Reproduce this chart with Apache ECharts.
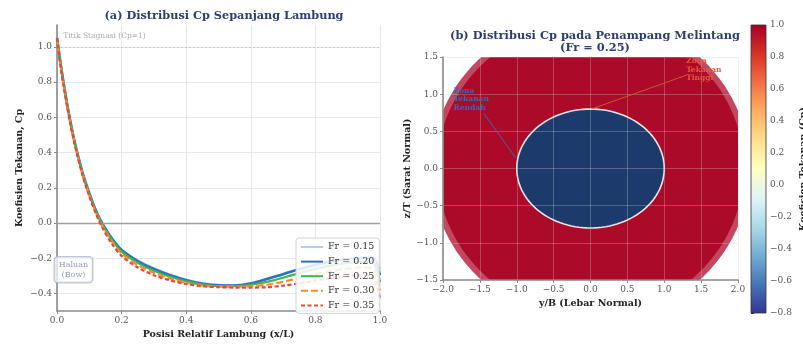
<!DOCTYPE html>
<html><head><meta charset="utf-8">
<script src="https://cdn.jsdelivr.net/npm/echarts@6/dist/echarts.min.js"></script>
<style>html,body{margin:0;padding:0;background:#fff}#c{width:803px;height:347px}</style>
</head><body><div id="c"></div>
<script>
// ---- Panel (a) data ----
const xPos = [0, 0.01, 0.02, 0.03, 0.04, 0.05, 0.06, 0.08, 0.10, 0.12, 0.14, 0.17, 0.20, 0.25, 0.30, 0.35, 0.40, 0.45, 0.50, 0.55, 0.60, 0.65, 0.70, 0.75, 0.80, 0.85, 0.90, 0.94, 0.97, 0.985, 1.0];
const cpFr015 = [1.05,0.92,0.80,0.69,0.59,0.50,0.42,0.28,0.17,0.075,0.0,-0.085,-0.150,-0.212,-0.256,-0.292,-0.320,-0.340,-0.350,-0.351,-0.340,-0.315,-0.288,-0.260,-0.235,-0.214,-0.200,-0.193,-0.190,-0.200,-0.260];
const cpFr020 = [1.05,0.92,0.80,0.69,0.59,0.50,0.42,0.28,0.17,0.073,-0.002,-0.088,-0.153,-0.216,-0.261,-0.296,-0.324,-0.344,-0.353,-0.354,-0.343,-0.318,-0.290,-0.262,-0.238,-0.218,-0.205,-0.198,-0.197,-0.215,-0.295];
const cpFr025 = [1.05,0.915,0.795,0.685,0.585,0.495,0.415,0.275,0.163,0.068,-0.008,-0.095,-0.162,-0.226,-0.271,-0.305,-0.331,-0.349,-0.357,-0.358,-0.350,-0.334,-0.310,-0.284,-0.260,-0.240,-0.226,-0.220,-0.220,-0.240,-0.335];
const cpFr030 = [1.05,0.91,0.79,0.68,0.58,0.49,0.41,0.27,0.158,0.062,-0.015,-0.105,-0.172,-0.238,-0.282,-0.314,-0.338,-0.354,-0.360,-0.361,-0.358,-0.350,-0.333,-0.312,-0.290,-0.272,-0.258,-0.252,-0.253,-0.275,-0.380];
const cpFr035 = [1.05,0.905,0.785,0.675,0.575,0.485,0.405,0.265,0.152,0.055,-0.025,-0.118,-0.186,-0.252,-0.296,-0.325,-0.346,-0.358,-0.364,-0.366,-0.366,-0.364,-0.355,-0.342,-0.326,-0.312,-0.302,-0.298,-0.300,-0.325,-0.430];
const frNames = ['Fr = 0.15','Fr = 0.20','Fr = 0.25','Fr = 0.30','Fr = 0.35'];

// ---- Panel (b) data ----
const outerHull = [0, 0, 2.16, 2.06];     // cx, cy, semi-axis y/B, semi-axis z/T
const innerHull = [0, 0, 2.08, 1.98];
const lowZone = [0, 0, 1.0, 0.8];
const lowZoneArrow = [[-1.446, 0.74], [-1.007, 0.134]];
const highZoneArrow = [[0.03, 0.806], [1.297, 1.254]];
const lowZoneText = [-1.856, 1.10, 'Zona\nTekanan\nRendah'];
const highZoneText = [1.297, 1.50, 'Zona\nTekanan\nTinggi'];
const cbRange = [-0.8, 1.0];

const FONT = 'DejaVu Serif';
const minus = v => (v < 0 ? '\u2212' : '') + Math.abs(v).toFixed(1);
const axisGray = '#8a8a8a';
const gridGray = '#e8e8e8';

const mk = arr => xPos.map((x, i) => [x, arr[i]]);
const lineDefs = [
  {d: cpFr015, c: '#a8d2f3', w: 2, t: 'solid'},
  {d: cpFr020, c: '#2e6fbe', w: 2.6, t: 'solid'},
  {d: cpFr025, c: '#35b85a', w: 2.2, t: 'solid'},
  {d: cpFr030, c: '#ff8a1f', w: 2.2, t: [7, 3]},
  {d: cpFr035, c: '#e04a3c', w: 2.2, t: [4, 2.5]}
];

function ellipsePts(api, e) {
  const pts = [];
  for (let k = 0; k <= 120; k++) {
    const t = k / 120 * Math.PI * 2;
    pts.push(api.coord([e[0] + e[2] * Math.cos(t), e[1] + e[3] * Math.sin(t)]));
  }
  return pts;
}

const chart = echarts.init(document.getElementById('c'));
const series = [];
lineDefs.forEach((L, i) => {
  series.push({
    name: frNames[i], type: 'line', xAxisIndex: 0, yAxisIndex: 0,
    data: mk(L.d), showSymbol: false, symbol: 'none', smooth: 0.3,
    lineStyle: {color: L.c, width: L.w, type: L.t}, itemStyle: {color: L.c},
    z: 3 + i, animation: false,
    markLine: i === 0 ? {
      silent: true, symbol: 'none', label: {show: false},
      data: [
        {yAxis: 1.0, lineStyle: {color: '#c8c8c8', type: [2, 2], width: 1}},
        {yAxis: 0.0, lineStyle: {color: '#a0a0a0', type: 'solid', width: 1.3}}
      ]
    } : undefined
  });
});
// annotations panel (a)
series.push({
  type: 'custom', xAxisIndex: 0, yAxisIndex: 0, z: 10, animation: false,
  data: [[0.019, 1.061]],
  renderItem: (p, api) => {
    const c = api.coord([api.value(0), api.value(1)]);
    return {type: 'text', x: c[0], y: c[1], style: {text: 'Titik Stagnasi (Cp=1)', fill: '#a9a9a9', font: '7.5px "DejaVu Serif"', textAlign: 'left', textVerticalAlign: 'middle'}};
  }
});
series.push({
  type: 'scatter', xAxisIndex: 0, yAxisIndex: 0, z: 12, animation: false, symbolSize: 0,
  data: [[0.051, -0.265]],
  label: {show: true, position: 'inside', formatter: 'Haluan\n(Bow)', color: '#7285ab', fontFamily: FONT, fontSize: 8, lineHeight: 10.5,
    backgroundColor: 'rgba(255,255,255,0.9)', borderColor: '#a9b7d0', borderWidth: 1.3, borderRadius: 3, padding: [2, 4, 2, 4], align: 'center'}
});
// panel (b) shapes
series.push({
  type: 'custom', xAxisIndex: 1, yAxisIndex: 1, z: 1, animation: false,
  data: [outerHull.concat([0]), innerHull.concat([1]), lowZone.concat([2])],
  renderItem: (p, api) => {
    const idx = p.dataIndex;
    const e = [api.value(0), api.value(1), api.value(2), api.value(3)];
    const cs = p.coordSys;
    const fills = ['#c2475f', '#ab0b28', '#1d3a6c'];
    return {
      type: 'polygon', shape: {points: ellipsePts(api, e)},
      style: {fill: fills[idx], stroke: idx === 2 ? '#e9e4df' : null, lineWidth: idx === 2 ? 1.6 : 0},
      clipPath: {type: 'rect', shape: {x: cs.x, y: cs.y, width: cs.width, height: cs.height}}
    };
  }
});
series.push({
  type: 'line', xAxisIndex: 1, yAxisIndex: 1, z: 5, animation: false, symbol: 'none',
  data: lowZoneArrow, lineStyle: {color: '#3d66b0', width: 1}
});
series.push({
  type: 'line', xAxisIndex: 1, yAxisIndex: 1, z: 5, animation: false, symbol: 'none',
  data: highZoneArrow, lineStyle: {color: '#c9572c', width: 1}
});
series.push({
  type: 'custom', xAxisIndex: 1, yAxisIndex: 1, z: 6, animation: false,
  data: [lowZoneText.slice(0, 2), highZoneText.slice(0, 2)],
  renderItem: (p, api) => {
    const d = p.dataIndex === 0 ? lowZoneText : highZoneText;
    const c = api.coord([d[0], d[1]]);
    return {type: 'text', x: c[0], y: c[1], style: {text: d[2], fill: p.dataIndex === 0 ? '#3567be' : '#e8593b',
      font: 'bold 7.5px "DejaVu Serif"', textAlign: 'left', textVerticalAlign: 'top', lineHeight: 8.5}};
  }
});
// colorbar
series.push({
  type: 'custom', xAxisIndex: 2, yAxisIndex: 2, z: 2, animation: false,
  data: [[0, cbRange[0], 1, cbRange[1]]],
  renderItem: (p, api) => {
    const a = api.coord([0, cbRange[0]]), b = api.coord([1, cbRange[1]]);
    const stops = ['#313695','#4575b4','#74add1','#abd9e9','#e0f3f8','#ffffbf','#fee090','#fdae61','#f46d43','#d73027','#a50026'];
    return {type: 'rect', shape: {x: a[0], y: b[1], width: b[0] - a[0], height: a[1] - b[1]},
      style: {fill: {type: 'linear', x: 0, y: 1, x2: 0, y2: 0, colorStops: stops.map((c, i) => ({offset: i / (stops.length - 1), color: c}))},
        stroke: '#333', lineWidth: 0.8}};
  }
});

const baseAxisLabel = {fontFamily: FONT, fontSize: 9, color: '#555', formatter: minus};
const nameStyle = {fontFamily: FONT, fontSize: 9.5, fontWeight: 'bold', color: '#222'};
const axLine = {show: true, onZero: false, lineStyle: {color: axisGray, width: 1.6}};

const option = {
  backgroundColor: '#fff',
  animation: false,
  textStyle: {fontFamily: FONT},
  title: [
    {text: '(a) Distribusi Cp Sepanjang Lambung', left: 219, top: 6, textAlign: 'center',
      textStyle: {fontFamily: FONT, fontSize: 11.3, fontWeight: 'bold', color: '#2c3e6e'}},
    {text: '(b) Distribusi Cp pada Penampang Melintang\n(Fr = 0.25)', left: 590, top: 25, textAlign: 'center',
      textStyle: {fontFamily: FONT, fontSize: 11.4, fontWeight: 'bold', color: '#2c3e6e', lineHeight: 12}}
  ],
  legend: {
    data: frNames, orient: 'vertical', left: 296, top: 238, itemWidth: 22, itemHeight: 8, itemGap: 4.6, z: 30,
    backgroundColor: 'rgba(255,255,255,0.85)', borderColor: '#d4d4d4', borderWidth: 1, borderRadius: 3,
    padding: [4, 5, 3, 4], itemStyle: {opacity: 0},
    textStyle: {fontFamily: FONT, fontSize: 9.5, color: '#333'}
  },
  grid: [
    {left: 57, top: 25, width: 323, height: 286, outerBoundsMode: 'none', containLabel: false},
    {left: 443, top: 57, width: 295, height: 223, outerBoundsMode: 'none', containLabel: false},
    {left: 751, top: 25, width: 15, height: 288, outerBoundsMode: 'none', containLabel: false}
  ],
  xAxis: [
    {gridIndex: 0, type: 'value', min: 0, max: 1, interval: 0.2,
      name: 'Posisi Relatif Lambung (x/L)', nameLocation: 'middle', nameGap: 18, nameTextStyle: nameStyle,
      axisLine: axLine, axisTick: {show: true, length: 3, lineStyle: {color: axisGray}},
      axisLabel: Object.assign({}, baseAxisLabel, {margin: 5}), splitLine: {lineStyle: {color: gridGray}}},
    {gridIndex: 1, type: 'value', min: -2, max: 2, interval: 0.5, z: 3,
      name: 'y/B (Lebar Normal)', nameLocation: 'middle', nameGap: 19, nameTextStyle: nameStyle,
      axisLine: axLine, axisTick: {show: true, length: 3, lineStyle: {color: axisGray}},
      axisLabel: Object.assign({}, baseAxisLabel, {margin: 5}), splitLine: {lineStyle: {color: 'rgba(205,205,205,0.3)'}}},
    {gridIndex: 2, type: 'value', min: 0, max: 1, show: false}
  ],
  yAxis: [
    {gridIndex: 0, type: 'value', min: -0.499, max: 1.124, splitNumber: 8,
      name: 'Koefisien Tekanan, Cp', nameLocation: 'middle', nameGap: 32, nameRotate: 90, nameTextStyle: nameStyle,
      axisLine: axLine, axisTick: {show: true, length: 3, lineStyle: {color: axisGray}},
      axisLabel: Object.assign({}, baseAxisLabel, {margin: 5, showMinLabel: false, showMaxLabel: false}),
      splitLine: {lineStyle: {color: gridGray}, showMinLine: false, showMaxLine: false}},
    {gridIndex: 1, type: 'value', min: -1.5, max: 1.5, interval: 0.5, z: 3,
      name: 'z/T (Sarat Normal)', nameLocation: 'middle', nameGap: 30, nameRotate: 90, nameTextStyle: nameStyle,
      axisLine: axLine, axisTick: {show: true, length: 3, lineStyle: {color: axisGray}},
      axisLabel: Object.assign({}, baseAxisLabel, {margin: 5}), splitLine: {lineStyle: {color: 'rgba(205,205,205,0.3)'}}},
    {gridIndex: 2, type: 'value', min: cbRange[0], max: cbRange[1], interval: 0.2, position: 'right',
      name: 'Koefisien Tekanan (Cp)', nameLocation: 'middle', nameGap: 33, nameRotate: 90, nameTextStyle: nameStyle,
      axisLine: {show: false}, axisTick: {show: true, length: 3, lineStyle: {color: '#333'}},
      axisLabel: Object.assign({}, baseAxisLabel, {margin: 4}), splitLine: {show: false}}
  ],
  series: series
};
chart.setOption(option);
</script></body></html>
